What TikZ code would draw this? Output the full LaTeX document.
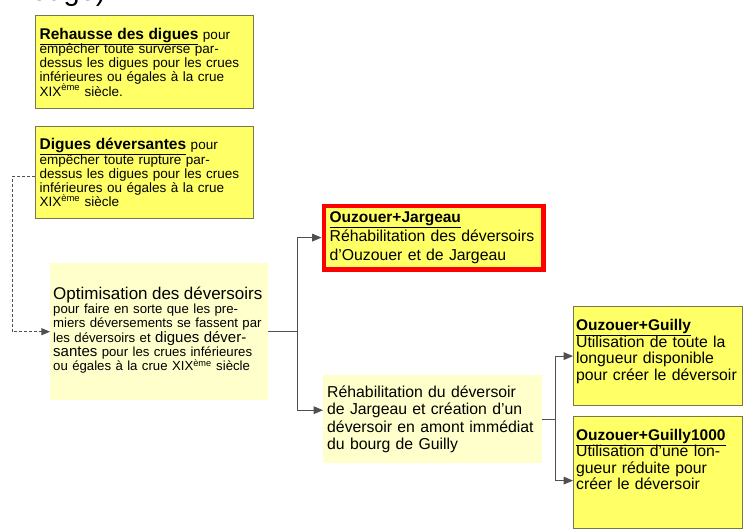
\documentclass[tikz,border=0pt]{standalone}
\usepackage{fontspec}
\setmainfont{Liberation Sans}
\usetikzlibrary{arrows,fit}

\definecolor{jaune}{HTML}{FFFF66}
\definecolor{jaunepale}{HTML}{FFFFCC}
\definecolor{bordjaune}{HTML}{77774A}
\definecolor{trait}{HTML}{505050}

\newcommand{\petit}{\fontsize{13.5}{14.2}\selectfont\lineskiplimit=-20pt}
\newcommand{\optitexte}{\fontsize{13.2}{14.3}\selectfont\lineskiplimit=-20pt}
\newcommand{\moyen}{\fontsize{15.8}{16.5}\selectfont\lineskiplimit=-20pt}
\newcommand{\jargtexte}{\fontsize{15.8}{19}\selectfont\lineskiplimit=-20pt}
\newcommand{\rehabtexte}{\fontsize{15.8}{17.5}\selectfont\lineskiplimit=-20pt}
\newcommand{\titre}[1]{{\fontsize{15.5}{14}\selectfont\bfseries\underline{#1}}}
\newcommand{\grand}{\fontsize{15}{14}\selectfont}
\newcommand{\basfond}[1]{\rule[-#1]{0pt}{#1}}

\begin{document}
\begin{tikzpicture}[x=1pt,y=-1pt,
	yellowbox/.style={draw=bordjaune, line width=1.2pt, fill=jaune, anchor=north west, align=left, inner xsep=4pt, inner ysep=2pt},
	palebox/.style={fill=jaunepale, anchor=north west, align=left, inner xsep=4pt, inner ysep=2pt},
	redframe/.style={draw=red, line width=4.5pt, inner sep=1.2pt},
	link/.style={draw=trait, line width=1.2pt, -triangle 45},
	dashlink/.style={draw=trait, line width=1pt, dash pattern=on 3pt off 2pt, -triangle 45}]
	\useasboundingbox (0,0) rectangle (743,529);
	\clip (0,0) rectangle (743,529);

	\node[anchor=base east, font=\fontsize{29}{29}\selectfont] (legende) at (109,1) {rouge)};

	\node[yellowbox, text width=210pt, minimum height=93pt, font=\petit] (rehausse) at (35,15)
		{\titre{Rehausse des digues} pour\\ empêcher toute surverse par-\\ dessus les digues pour les crues\\ inférieures ou égales à la crue\\ XIX\textsuperscript{ème} siècle.};
	\node[yellowbox, text width=210pt, minimum height=92pt, font=\petit] (digdev) at (35,126)
		{\titre{Digues déversantes} pour\\ empêcher toute rupture par-\\ dessus les digues pour les crues\\ inférieures ou égales à la crue\\ XIX\textsuperscript{ème} siècle};
	\node[palebox, inner xsep=3pt, text width=212pt, minimum height=137pt, font=\optitexte] (opti) at (50,263)
		{{\fontsize{17}{14}\selectfont Optimisation des déversoirs}\\ pour faire en sorte que les pre-\\ miers déversements se fassent par\\ les déversoirs et {\grand digues déver-}\\ {\grand santes} pour les crues inférieures\\ ou égales à la crue XIX\textsuperscript{ème} siècle\basfond{6pt}};

	\node[yellowbox, text width=208pt, minimum height=60pt, font=\jargtexte] (ozj) at (325,207)
		{\titre{Ouzouer+Jargeau}\\ Réhabilitation des déversoirs\\ d’Ouzouer et de Jargeau};
	\node[redframe, fit=(ozj)] (ozjframe) {};
	\node[palebox, text width=211pt, minimum height=88pt, font=\rehabtexte] (rehab) at (323,375)
		{Réhabilitation du déversoir\\ de Jargeau et création d’un\\ déversoir en amont immédiat\\ du bourg de Guilly};

	\node[yellowbox, inner xsep=2.5pt, text width=164pt, minimum height=99pt, font=\moyen] (guilly) at (573,306)
		{\titre{Ouzouer+Guilly}\\ Utilisation de toute la\\ longueur disponible\\ pour créer le déversoir\basfond{12pt}};
	\node[yellowbox, inner xsep=2.5pt, text width=164pt, minimum height=112pt, font=\moyen] (g1000) at (573,416)
		{\titre{Ouzouer+Guilly1000}\\ Utilisation d’une lon-\\ gueur réduite pour\\ créer le déversoir\basfond{26pt}};

	\draw[dashlink] ([yshift=-4pt]digdev.west) -- ++(-23,0) |- (opti.west);
	\draw[link] (opti.east) -- ++(29,0) |- (ozjframe.west);
	\draw[link] (opti.east) -- ++(29,0) |- ([yshift=9pt]rehab.west);
	\draw[link] (rehab.east) -- ++(13,0) |- (guilly.west);
	\draw[link] (rehab.east) -- ++(13,0) |- ([yshift=-8pt]g1000.west);
\end{tikzpicture}
\end{document}
